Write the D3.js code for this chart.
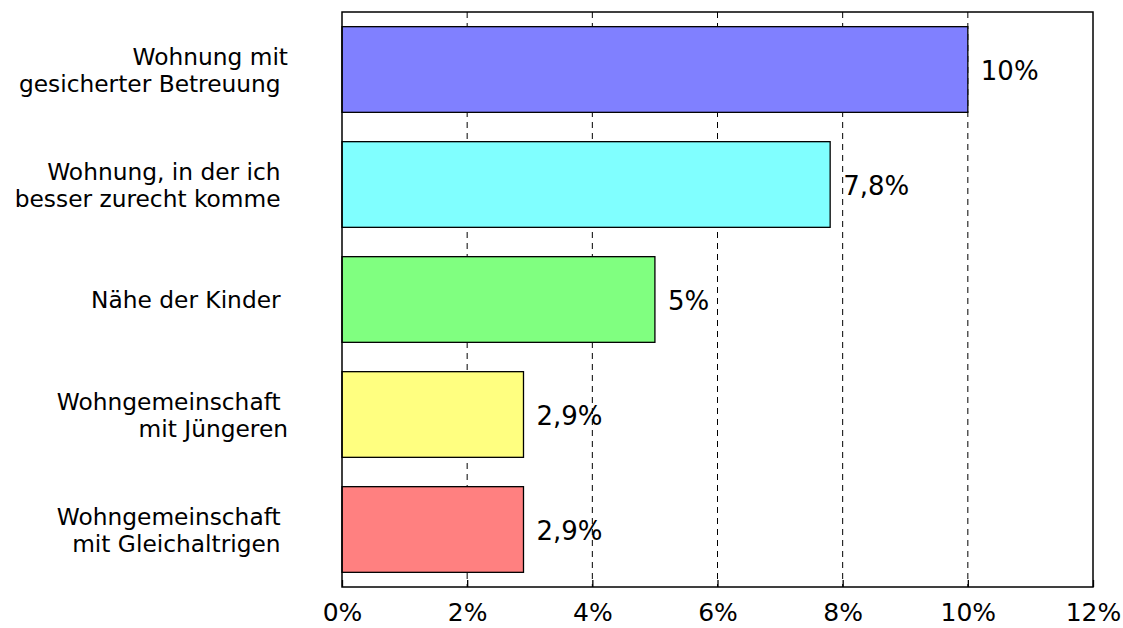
<!DOCTYPE html>
<html>
<head>
<meta charset="utf-8">
<script src="https://cdn.jsdelivr.net/npm/d3@7"></script>
<style>
  body { margin: 0; background: #fff; }
  text { font-family: "DejaVu Sans", Verdana, sans-serif; fill: #000; }
</style>
</head>
<body>
<svg id="chart" width="1123" height="628"></svg>
<script>
// categories (top to bottom), label lines keep the trailing spaces of the original
const categories = [
    ['Wohnung mit', 'gesicherter Betreuung '],
    ['Wohnung, in der ich ', 'besser zurecht komme '],
    ['Nähe der Kinder '],
    ['Wohngemeinschaft ', 'mit Jüngeren'],
    ['Wohngemeinschaft ', 'mit Gleichaltrigen ']
];
const values = [10, 7.8, 5, 2.9, 2.9];
const valueLabels = ['10%', '7,8%', '5%', '2,9%', '2,9%'];
const colors = ['#8080ff', '#80ffff', '#80ff80', '#ffff80', '#ff8080'];
const ticks = [0, 2, 4, 6, 8, 10, 12];

const plotLeft = 342, plotRight = 1093, plotTop = 12, plotBottom = 587;

let svg = d3.select('#chart');

let x = d3.scaleLinear().domain([0, 12]).range([plotLeft, plotRight]);
let y = d3.scaleBand()
    .domain(d3.range(values.length))
    .range([plotTop, plotBottom])
    .paddingInner(0.255)
    .paddingOuter(0.1275);

// dashed gridlines
svg.append('g')
    .selectAll('line')
    .data(ticks.slice(1, -1))
    .enter()
    .append('line')
    .attr('x1', d => x(d)).attr('x2', d => x(d))
    .attr('y1', plotTop).attr('y2', plotBottom)
    .attr('stroke', '#000')
    .attr('stroke-width', 1)
    .attr('stroke-dasharray', '6,5');

// bars
svg.append('g')
    .selectAll('rect')
    .data(values)
    .enter()
    .append('rect')
    .attr('x', x(0))
    .attr('y', (d, i) => y(i))
    .attr('width', d => x(d) - x(0))
    .attr('height', y.bandwidth())
    .attr('fill', (d, i) => colors[i])
    .attr('stroke', '#000')
    .attr('stroke-width', 1.3);

// frame
svg.append('rect')
    .attr('x', plotLeft).attr('y', plotTop)
    .attr('width', plotRight - plotLeft).attr('height', plotBottom - plotTop)
    .attr('fill', 'none')
    .attr('stroke', '#000')
    .attr('stroke-width', 1.5);

// x axis: inside ticks + labels
let xAxis = d3.axisBottom(x)
    .tickValues(ticks)
    .tickSizeInner(-7)
    .tickSizeOuter(0)
    .tickFormat(d => d + '%');

let gx = svg.append('g')
    .attr('transform', `translate(0,${plotBottom})`)
    .call(xAxis);
gx.select('.domain').remove();
gx.selectAll('.tick line').attr('stroke', '#000').attr('stroke-width', 1.3);
gx.selectAll('.tick text')
    .attr('font-size', 25)
    .attr('font-family', '"DejaVu Sans", Verdana, sans-serif')
    .attr('fill', '#000')
    .attr('dy', 0)
    .attr('y', 34);

// value labels
svg.append('g')
    .selectAll('text')
    .data(values)
    .enter()
    .append('text')
    .attr('x', d => x(d) + 13)
    .attr('y', (d, i) => y(i) + y.bandwidth() / 2 + 10)
    .attr('font-size', 26)
    .text((d, i) => valueLabels[i]);

// category labels
const lineH = 27;
let cat = svg.append('g')
    .selectAll('text')
    .data(categories)
    .enter()
    .append('text')
    .attr('text-anchor', 'end')
    .attr('font-size', 23.3)
    .style('white-space', 'pre');

cat.each(function (lines, i) {
    let cy = y(i) + y.bandwidth() / 2;
    d3.select(this)
        .selectAll('tspan')
        .data(lines)
        .enter()
        .append('tspan')
        .attr('x', 288)
        .attr('y', (l, j) => cy + (j - (lines.length - 1) / 2) * lineH + 8.5)
        .text(l => l);
});
</script>
</body>
</html>
